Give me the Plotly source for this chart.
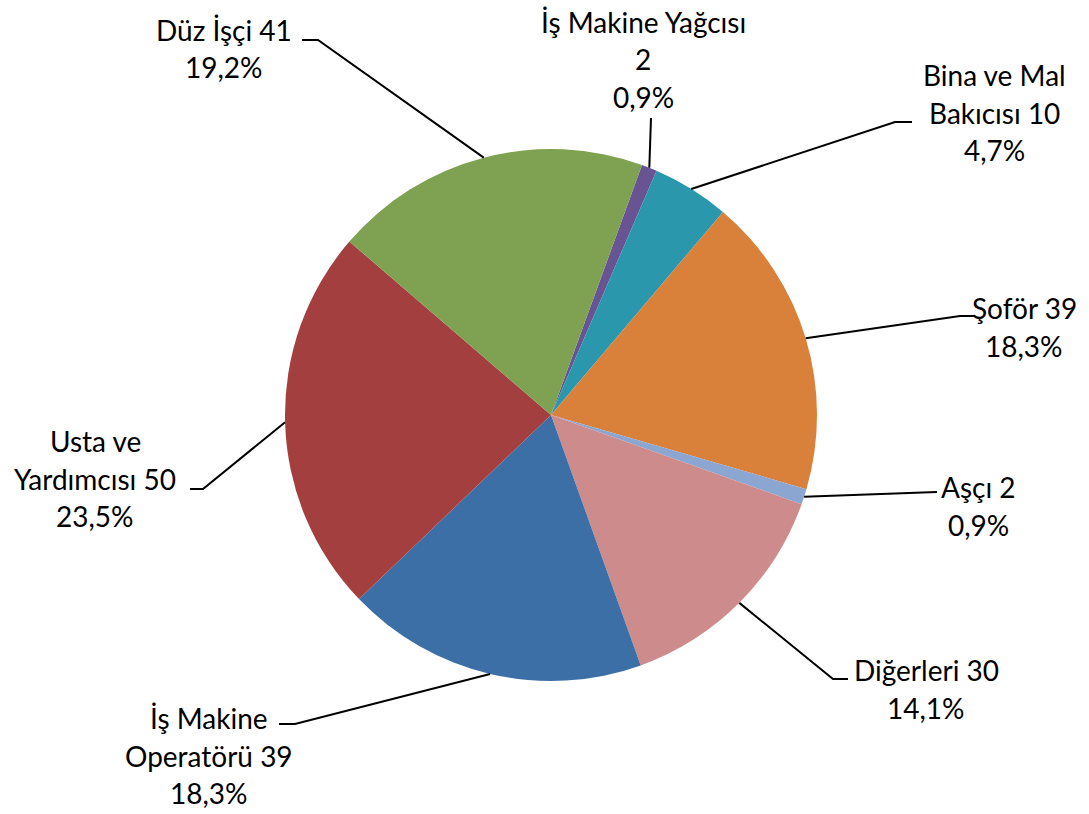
import math
import plotly.graph_objects as go

# ---- data ----
categories = ["İş Makine Yağcısı", "Bina ve Mal Bakıcısı", "Şoför", "Aşçı",
              "Diğerleri", "İş Makine Operatörü", "Usta ve Yardımcısı", "Düz İşçi"]
values = [2, 10, 39, 2, 30, 39, 50, 41]
# label lines (text only; numbers/percent appended from data)
label_lines = [["İş Makine Yağcısı", ""], ["Bina ve Mal", "Bakıcısı"], ["Şoför"], ["Aşçı"],
               ["Diğerleri"], ["İş Makine", "Operatörü"], ["Usta ve", "Yardımcısı"], ["Düz İşçi"]]
colors = ["#685492", "#2A97AD", "#D9803A", "#8BA6D0", "#CD8B8B", "#3B6FA5", "#A3403F", "#7EA152"]

# ---- layout constants (pixels) ----
W, H = 1089, 814
CX, CY, R = 551, 415, 266
ROTATION = 20
FONT = "Lato, 'Open Sans', sans-serif"
FS = 28
LINE_H = 37.5
# label block: (center x, first line y), elbow point of leader (or None), end of horizontal tick
label_pos = [
    (643, 22, None, (651, 118)),
    (994, 75, (895, 122), (912, 122)),
    (1024, 308, (960, 316), (975, 316)),
    (978, 487, None, (937, 492)),
    (926, 670, (833, 679), (848, 679)),
    (209, 718, (295, 724), (279, 724)),
    (95, 441, (203, 489), (190, 489)),
    (224, 30, (318, 40), (302, 40)),
]


def px(x):
    return x / W


def py(y):
    return 1 - y / H


total = sum(values)
fig = go.Figure(go.Pie(
    labels=categories, values=values, sort=False, direction="clockwise",
    rotation=ROTATION, marker=dict(colors=colors, line=dict(width=0)),
    textinfo="none", hoverinfo="label+value+percent", showlegend=False,
    domain=dict(x=[px(CX - R), px(CX + R)], y=[py(CY + R), py(CY - R)]),
))

annotations = []
shapes = []
cum = 0
for i, v in enumerate(values):
    mid = ROTATION + (cum + v / 2) / total * 360
    cum += v
    a = math.radians(mid)
    sx, sy = CX + R * math.sin(a), CY - R * math.cos(a)
    lx, ly, elbow, tick = label_pos[i]
    pct = f"{v / total * 100:.1f}".replace(".", ",") + "%"
    lines = list(label_lines[i])
    if lines[-1] == "":
        lines[-1] = str(v)
    else:
        lines[-1] = lines[-1] + f" {v}"
    lines.append(pct)
    for k, t in enumerate(lines):
        annotations.append(dict(x=px(lx), y=py(ly + k * LINE_H), xref="paper", yref="paper",
                                text=t, showarrow=False, xanchor="center", yanchor="middle",
                                font=dict(family=FONT, size=FS, color="#000000")))
    pts = [(sx, sy)]
    if elbow:
        pts.append(elbow)
    pts.append(tick)
    path = "M " + " L ".join(f"{px(x)},{py(y)}" for x, y in pts)
    shapes.append(dict(type="path", path=path, xref="paper", yref="paper",
                       line=dict(color="#000000", width=2)))

fig.update_layout(
    width=W, height=H, margin=dict(l=0, r=0, t=0, b=0),
    paper_bgcolor="#FFFFFF", plot_bgcolor="#FFFFFF",
    annotations=annotations, shapes=shapes,
)
fig.write_html("out.html", config={"displayModeBar": False},
               post_script="document.body.style.margin='0';")
